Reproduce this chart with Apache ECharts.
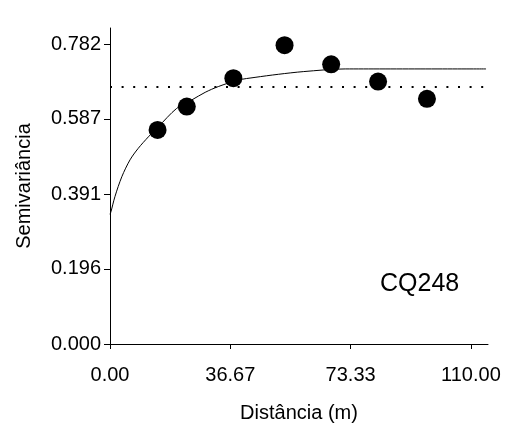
<!DOCTYPE html>
<html>
<head>
<meta charset="utf-8">
<script src="https://cdn.jsdelivr.net/npm/echarts@6/dist/echarts.min.js"></script>
<style>
  html, body { margin: 0; padding: 0; background: #fff; }
  #chart { width: 507px; height: 426px; }
</style>
</head>
<body>
<div id="chart"></div>
<script>
// Experimental semivariogram points (lag distance in m, semivariance)
const lagDistance = [14.5, 23.4, 37.6, 53.2, 67.4, 81.7, 96.6];
const semivariance = [0.558, 0.619, 0.693, 0.779, 0.729, 0.684, 0.639];

// Fitted model curve, sampled along its trace
const modelDistance = [0, 0.3, 1.5, 3.6, 6.1, 8.6, 11.7, 14.7, 20.3, 24.9, 29.0, 33.0, 39.1, 44.2, 51.3, 58.9, 71.7, 114.6];
const modelValue = [0.338, 0.345, 0.384, 0.436, 0.480, 0.510, 0.540, 0.566, 0.614, 0.636, 0.656, 0.671, 0.688, 0.695, 0.703, 0.710, 0.717, 0.717];

// Sample variance (horizontal reference line)
const sampleVariance = 0.665;

// Tick values
const xTicks = [0, 36.67, 73.33, 110];
const yTicks = [0, 0.196, 0.391, 0.587, 0.782];

const siteLabel = 'CQ248';

const FONT = 'Liberation Sans, Arial, Helvetica, sans-serif';

const chart = echarts.init(document.getElementById('chart'), null, { renderer: 'canvas' });

const points = lagDistance.map((d, i) => [d, semivariance[i]]);
const model = modelDistance.map((d, i) => [d, modelValue[i]]);

chart.setOption({
  animation: false,
  backgroundColor: '#fff',
  textStyle: { fontFamily: FONT },
  grid: {
    left: 110, right: 19, top: 28, bottom: 82,
    containLabel: false,
    outerBoundsMode: 'none'
  },
  xAxis: {
    type: 'value',
    min: 0,
    max: 115.2,
    name: 'Distância (m)',
    nameLocation: 'middle',
    nameGap: 59,
    nameTextStyle: { color: '#000', fontSize: 20, fontFamily: FONT },
    axisLine: { show: true, onZero: false, lineStyle: { color: '#000', width: 1 } },
    axisTick: { show: true, inside: false, length: 5, customValues: xTicks, lineStyle: { color: '#000' } },
    axisLabel: {
      color: '#000', fontSize: 20, fontFamily: FONT, margin: 21,
      customValues: xTicks,
      formatter: v => v.toFixed(2)
    },
    splitLine: { show: false }
  },
  yAxis: {
    type: 'value',
    min: 0,
    max: 0.8237,
    name: 'Semivariância',
    nameLocation: 'middle',
    nameGap: 76,
    nameTextStyle: { color: '#000', fontSize: 20, fontFamily: FONT },
    axisLine: { show: true, onZero: false, lineStyle: { color: '#000', width: 1 } },
    axisTick: { show: true, inside: false, length: 6, customValues: yTicks, lineStyle: { color: '#000' } },
    axisLabel: {
      color: '#000', fontSize: 20, fontFamily: FONT, margin: 9,
      customValues: yTicks,
      formatter: v => v.toFixed(3)
    },
    splitLine: { show: false }
  },
  graphic: [{
    type: 'text',
    left: 380,
    top: 272,
    style: { text: siteLabel, fill: '#000', font: '25px ' + FONT }
  }],
  series: [
    {
      type: 'line',
      data: model,
      smooth: 0.3,
      symbol: 'none',
      lineStyle: { color: '#000', width: 1 },
      silent: true,
      z: 2
    },
    {
      type: 'scatter',
      data: points,
      symbol: 'circle',
      symbolSize: 18,
      itemStyle: { color: '#000', opacity: 1 },
      z: 3,
      markLine: {
        silent: true,
        symbol: 'none',
        label: { show: false },
        lineStyle: { color: '#000', width: 2, type: [2, 9.6], dashOffset: 0 },
        data: [{ yAxis: sampleVariance }]
      }
    }
  ]
});
</script>
</body>
</html>
